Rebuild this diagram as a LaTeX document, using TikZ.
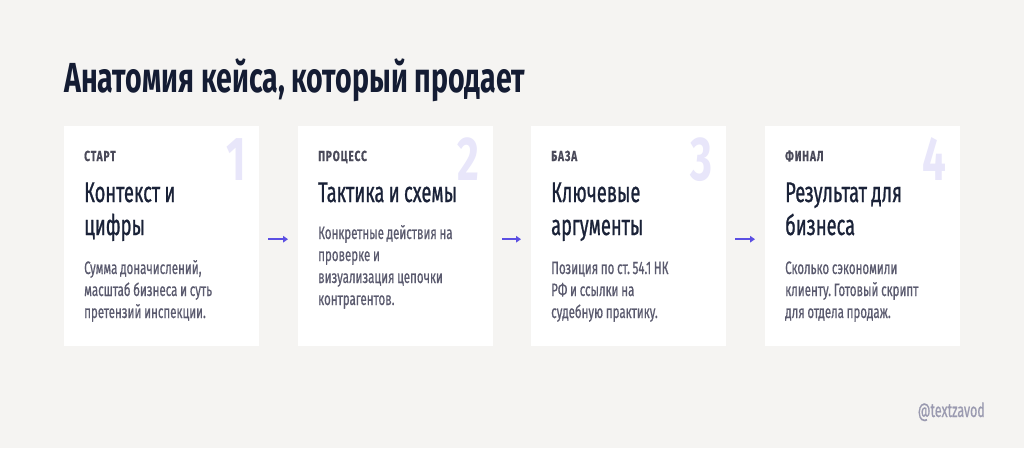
\documentclass[tikz,border=0pt]{standalone}
\usepackage{fontspec}
\setmainfont{Fira Sans}
\newfontfamily\condtitle[FakeStretch=0.68]{Fira Sans}
\newfontfamily\condfont[FakeStretch=0.68]{Fira Sans}
\newfontfamily\condbody[FakeStretch=0.64,FakeBold=0.6]{Fira Sans}
\newfontfamily\condhead[FakeStretch=0.64,FakeBold=0.8]{Fira Sans}
\newfontfamily\condlbl[FakeStretch=0.7,LetterSpace=6,FakeBold=0.5]{Fira Sans}
\usetikzlibrary{arrows.meta}
\definecolor{bgc}{HTML}{F5F4F2}
\definecolor{titlec}{HTML}{141C33}
\definecolor{ctitlec}{HTML}{1A2238}
\definecolor{bodyc}{HTML}{5A5A6E}
\definecolor{lblc}{HTML}{4A4A5A}
\definecolor{numc}{HTML}{E8E6FA}
\definecolor{arrc}{HTML}{5B4FE3}
\definecolor{handlec}{HTML}{9A9AB0}
\begin{document}
\begin{tikzpicture}[x=1pt,y=1pt,
  natspace/.style={execute at begin node={\frenchspacing\spaceskip=0.9\fontdimen2\font plus \fontdimen3\font minus \fontdimen4\font\relax\xspaceskip=\spaceskip}},
  card/.style={fill=white,draw=none,anchor=north west,minimum width=195pt,minimum height=220pt,inner sep=0pt},
  lbl/.style={anchor=base west,inner sep=0pt,text=lblc,font=\condlbl\bfseries\fontsize{14.5}{15}\selectfont},
  numb/.style={anchor=base east,inner sep=0pt,text=numc,font=\condfont\bfseries\fontsize{62}{62}\selectfont},
  ctitle/.style={natspace,anchor=base west,inner sep=0pt,text=ctitlec,text width=170pt,align=left,font=\condhead\fontsize{28.5}{33}\selectfont},
  bodytext/.style={natspace,anchor=base west,inner sep=0pt,text=bodyc,text width=172pt,align=left,font=\condbody\fontsize{18}{22}\selectfont},
  arr/.style={draw=arrc,line width=1.8pt,-{Triangle[length=5pt,width=6.5pt]}}
]
\useasboundingbox (0,0) rectangle (1024,-448);
\fill[bgc] (0,0) rectangle (1024,-448);

\node[anchor=base west,inner sep=0pt,text=titlec,font=\condtitle\bfseries\fontsize{42}{42}\selectfont] (title) at (64,-92) {Анатомия кейса, который продает};

% card 1
\node[card] (c1) at (64,-126) {};
\node[numb] (n1) at (246,-180) {1};
\node[lbl] (l1) at (84,-161) {СТАРТ};
\node[ctitle] (t1) at (84,-202) {Контекст и\\цифры};
\node[bodytext] (b1) at (84,-274) {Сумма доначислений,\\масштаб бизнеса и суть\\претензий инспекции.};

% card 2
\node[card] (c2) at (298,-126) {};
\node[numb] (n2) at (479,-180) {2};
\node[lbl] (l2) at (318,-161) {ПРОЦЕСС};
\node[ctitle] (t2) at (318,-202) {Тактика и схемы};
\node[bodytext] (b2) at (318,-239) {Конкретные действия на\\проверке и\\визуализация цепочки\\контрагентов.};

% card 3
\node[card] (c3) at (531,-126) {};
\node[numb] (n3) at (713,-180) {3};
\node[lbl] (l3) at (551,-161) {БАЗА};
\node[ctitle] (t3) at (551,-202) {Ключевые\\аргументы};
\node[bodytext] (b3) at (551,-274) {Позиция по ст. 54.1 НК\\РФ и ссылки на\\судебную практику.};

% card 4
\node[card] (c4) at (765,-126) {};
\node[numb] (n4) at (947,-180) {4};
\node[lbl] (l4) at (785,-161) {ФИНАЛ};
\node[ctitle] (t4) at (785,-202) {Результат для\\бизнеса};
\node[bodytext] (b4) at (785,-274) {Сколько сэкономили\\клиенту. Готовый скрипт\\для отдела продаж.};

% arrows
\draw[arr] ([xshift=9pt,yshift=-3pt]c1.east) -- ([xshift=-10pt,yshift=-3pt]c2.west);
\draw[arr] ([xshift=9pt,yshift=-3pt]c2.east) -- ([xshift=-10pt,yshift=-3pt]c3.west);
\draw[arr] ([xshift=9pt,yshift=-3pt]c3.east) -- ([xshift=-10pt,yshift=-3pt]c4.west);

\node[anchor=base east,inner sep=0pt,text=handlec,font=\condbody\fontsize{19.5}{21}\selectfont] (handle) at (985,-417) {@textzavod};
\end{tikzpicture}
\end{document}
